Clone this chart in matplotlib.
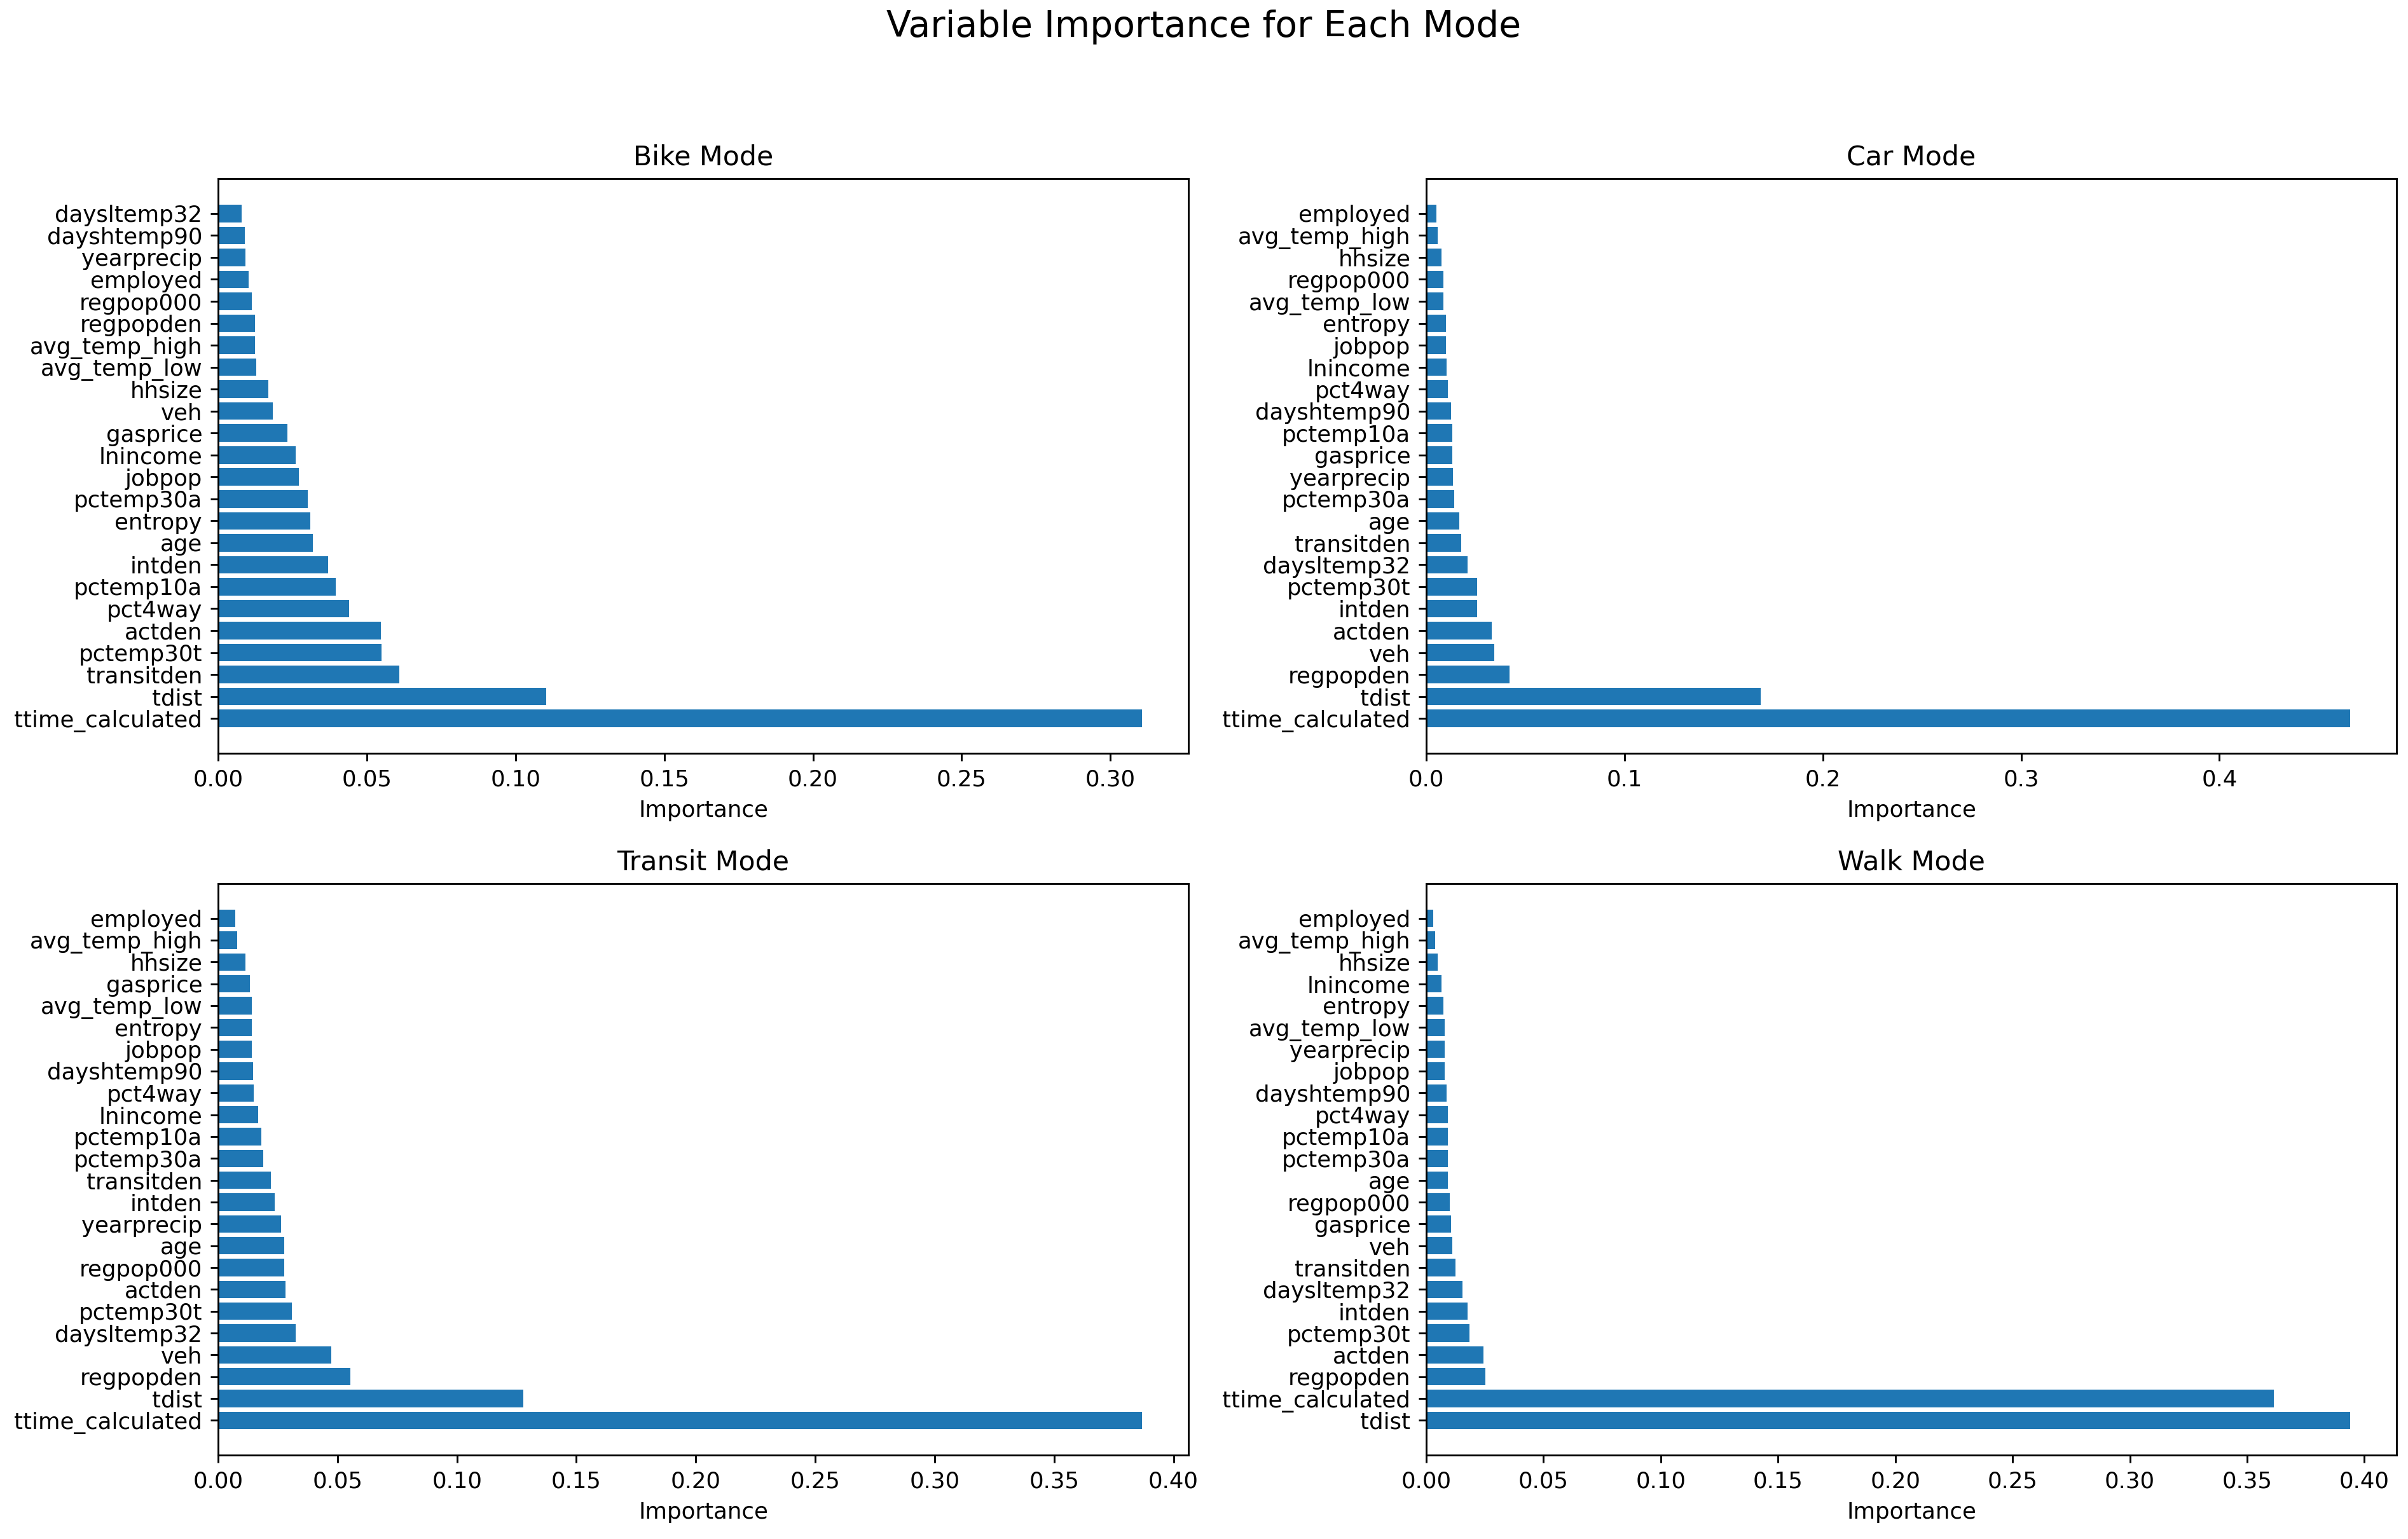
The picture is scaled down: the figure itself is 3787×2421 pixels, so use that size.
import matplotlib
matplotlib.use("Agg")
import matplotlib.pyplot as plt

# Data (listed bottom-to-top as drawn)
bike_features = ["ttime_calculated", "tdist", "transitden", "pctemp30t", "actden", "pct4way",
                 "pctemp10a", "intden", "age", "entropy", "pctemp30a", "jobpop", "lnincome",
                 "gasprice", "veh", "hhsize", "avg_temp_low", "avg_temp_high", "regpopden",
                 "regpop000", "employed", "yearprecip", "dayshtemp90", "daysltemp32"]
bike_values = [0.3107, 0.1104, 0.0609, 0.0550, 0.0548, 0.0440, 0.0396, 0.0369, 0.0319, 0.0309,
               0.0302, 0.0271, 0.0260, 0.0233, 0.0184, 0.0168, 0.0129, 0.0124, 0.0123, 0.0113,
               0.0102, 0.0091, 0.0090, 0.0080]

car_features = ["ttime_calculated", "tdist", "regpopden", "veh", "actden", "intden", "pctemp30t",
                "daysltemp32", "transitden", "age", "pctemp30a", "yearprecip", "gasprice",
                "pctemp10a", "dayshtemp90", "pct4way", "lnincome", "jobpop", "entropy",
                "avg_temp_low", "regpop000", "hhsize", "avg_temp_high", "employed"]
car_values = [0.4660, 0.1687, 0.0420, 0.0344, 0.0330, 0.0257, 0.0255, 0.0208, 0.0175, 0.0166,
              0.0142, 0.0134, 0.0133, 0.0132, 0.0125, 0.0109, 0.0102, 0.0101, 0.0100, 0.0086,
              0.0085, 0.0076, 0.0059, 0.0052]

transit_features = ["ttime_calculated", "tdist", "regpopden", "veh", "daysltemp32", "pctemp30t",
                    "actden", "regpop000", "age", "yearprecip", "intden", "transitden",
                    "pctemp30a", "pctemp10a", "lnincome", "pct4way", "dayshtemp90", "jobpop",
                    "entropy", "avg_temp_low", "gasprice", "hhsize", "avg_temp_high", "employed"]
transit_values = [0.3869, 0.1278, 0.0554, 0.0473, 0.0324, 0.0310, 0.0283, 0.0277, 0.0276, 0.0263,
                  0.0236, 0.0222, 0.0188, 0.0181, 0.0168, 0.0148, 0.0147, 0.0142, 0.0141, 0.0140,
                  0.0134, 0.0114, 0.0080, 0.0073]

walk_features = ["tdist", "ttime_calculated", "regpopden", "actden", "pctemp30t", "intden",
                 "daysltemp32", "transitden", "veh", "gasprice", "regpop000", "age", "pctemp30a",
                 "pctemp10a", "pct4way", "dayshtemp90", "jobpop", "yearprecip", "avg_temp_low",
                 "entropy", "lnincome", "hhsize", "avg_temp_high", "employed"]
walk_values = [0.3940, 0.3614, 0.0251, 0.0245, 0.0183, 0.0176, 0.0154, 0.0126, 0.0112, 0.0106,
               0.0100, 0.0093, 0.0092, 0.0092, 0.0091, 0.0086, 0.0079, 0.0078, 0.0078, 0.0072,
               0.0064, 0.0050, 0.0037, 0.0030]

modes = ["Bike", "Car", "Transit", "Walk"]
features = [bike_features, car_features, transit_features, walk_features]
values = [bike_values, car_values, transit_values, walk_values]

W, H = 3787, 2421
dpi = 255.6
fig = plt.figure(figsize=(W / dpi, H / dpi), dpi=dpi)

lefts = [343, 2243]
rights = [1869, 3769]
tops = [281, 1390]
bottoms = [1185, 2289]

for i, (mode, feats, vals) in enumerate(zip(modes, features, values)):
    r, c = divmod(i, 2)
    l = lefts[c] / W
    w = (rights[c] - lefts[c]) / W
    b = 1 - bottoms[r] / H
    h = (bottoms[r] - tops[r]) / H
    ax = fig.add_axes([l, b, w, h])
    ax.barh(feats, vals, color="#1f77b4")
    ax.set_title(f"{mode} Mode")
    ax.set_xlabel("Importance")

fig.suptitle("Variable Importance for Each Mode", fontsize=16, y=0.994, va="top")
fig.savefig("out.png", dpi=dpi)
